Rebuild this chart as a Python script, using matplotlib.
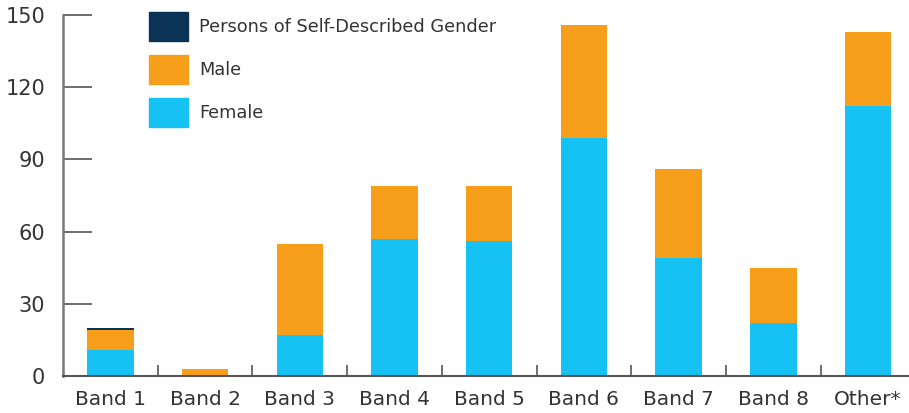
import matplotlib
matplotlib.use('Agg')
import matplotlib.pyplot as plt
from matplotlib.patches import Rectangle
import numpy as np

# --- Données ---------------------------------------------------
categories = ["Band 1", "Band 2", "Band 3", "Band 4", "Band 5",
              "Band 6", "Band 7", "Band 8", "Other*"]
female = [11, 0, 17, 57, 56, 99, 49, 22, 112]
male = [8, 3, 38, 22, 23, 47, 37, 23, 31]
self_described = [1, 0, 0, 0, 0, 0, 0, 0, 0]
y_ticks = [0, 30, 60, 90, 120, 150]

col_female = "#16C1F3"
col_male = "#F79E1B"
col_self = "#0B3356"
txt_col = "#333333"

plt.rcParams['font.family'] = ['DejaVu Sans']

W, H = 909, 413
fig = plt.figure(figsize=(W / 100, H / 100), dpi=100)
ax = fig.add_axes([63 / W, 1 - 376 / H, 1 - 63 / W, (376 - 15) / H])

x = np.arange(len(categories))
w = 0.49
female = np.array(female)
male = np.array(male)
self_described = np.array(self_described)

ax.bar(x, female, width=w, color=col_female, label="Female")
ax.bar(x, male, width=w, bottom=female, color=col_male, label="Male")
ax.bar(x, self_described, width=w, bottom=female + male, color=col_self,
       label="Persons of Self-Described Gender")

ax.set_xlim(-0.5, (W - 110) / 94.75)
ax.set_ylim(0, 150)
ax.set_yticks(y_ticks)
ax.set_xticks(x)
ax.set_xticklabels(categories)
ax.set_xticks(x[:-1] + 0.5, minor=True)

ax.tick_params(axis="y", direction="in", length=21, width=1.2,
               color="#555555", labelsize=15, labelcolor=txt_col, pad=13)
ax.tick_params(axis="x", which="major", length=0, labelsize=14.5,
               labelcolor=txt_col, pad=10)
ax.tick_params(axis="x", which="minor", direction="in", length=8,
               width=1.2, color="#555555")

ax.spines[["top", "right"]].set_visible(False)
ax.spines["left"].set_color("#777777")
ax.spines["left"].set_linewidth(1.8)
ax.spines["bottom"].set_color("#555555")
ax.spines["bottom"].set_linewidth(1.5)

# Légende dessinée à la main (position en pixels de la figure)
legend_items = [("Persons of Self-Described Gender", col_self),
                ("Male", col_male),
                ("Female", col_female)]
for i, (lab, col) in enumerate(legend_items):
    top = 12 + 43 * i
    fig.patches.append(Rectangle((149 / W, 1 - (top + 29) / H), 39 / W, 29 / H,
                                 transform=fig.transFigure, color=col))
    fig.text(199 / W, 1 - (top + 15) / H, lab, fontsize=12.8,
             color=txt_col, va="center", ha="left")

plt.savefig("out.png", dpi=100)
plt.close()
